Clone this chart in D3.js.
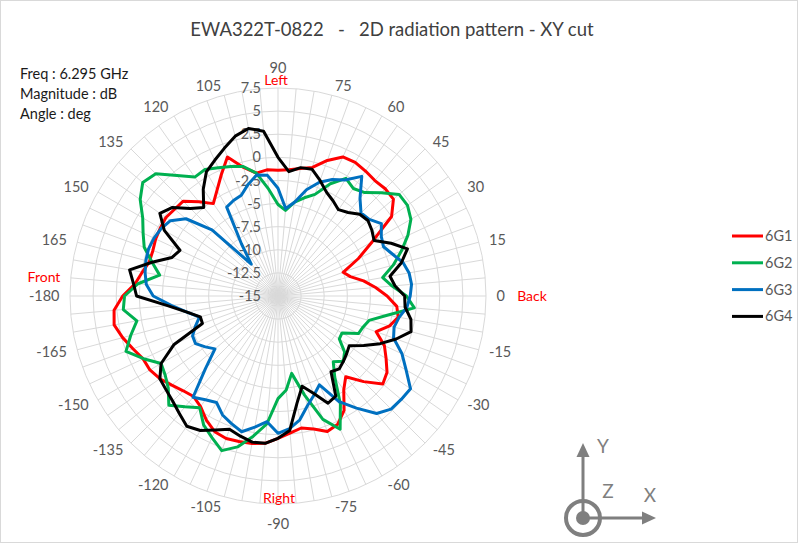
<!DOCTYPE html>
<html><head><meta charset="utf-8">
<script src="https://cdn.jsdelivr.net/npm/d3@7"></script>
<style>
body{margin:0;background:#fff;}
svg{display:block;font-family:Lato,"Open Sans",sans-serif;}
</style></head>
<body><svg id="c" width="798" height="543"></svg>
<script>
const angles = [0,5,10,15,20,25,30,35,40,45,50,55,60,65,70,75,80,85,90,95,100,105,110,115,120,125,130,135,140,145,150,155,160,165,170,175,-180,-175,-170,-165,-160,-155,-150,-145,-140,-135,-130,-125,-120,-115,-110,-105,-100,-95,-90,-85,-80,-75,-70,-65,-60,-55,-50,-45,-40,-35,-30,-25,-20,-15,-10,-5];
const s6G1 = [-3.2,-4.4,-5.6,-6.9,-7.5,-5.4,-3.2,0.0,1.3,1.4,1.3,1.5,1.7,1.6,0.6,-0.6,-1.0,-1.3,-1.4,-1.3,-1.5,-0.6,1.0,-0.5,-1.8,-2.8,-1.7,-0.5,-0.4,-0.2,-0.3,-0.4,-0.6,-0.6,-0.1,0.5,
  1.8,2.8,3.0,2.4,1.7,1.1,1.0,0.6,0.0,-0.5,-0.8,-0.4,0.5,1.2,1.4,1.3,1.2,1.0,0.4,-0.1,-0.5,-0.1,0.6,0.3,-0.7,-2.6,-3.6,-1.9,-0.2,-0.6,-1.5,-2.3,-3.7,-2.5,-1.8,-2.1];
const s6G2 = [-1.1,-2.6,-3.5,-2.1,-0.8,0.5,1.6,2.1,2.1,0.8,-0.4,-0.8,-0.3,-1.6,-3.3,-4.0,-4.7,-5.7,-5.1,-3.4,-1.5,-0.5,-0.1,0.3,0.8,0.7,2.0,3.7,4.1,3.2,1.9,1.1,0.4,-0.9,-2.0,0.2,
  1.6,1.8,0.5,1.5,2.5,1.05,-0.4,-0.1,0.5,1.7,0.65,-0.24,1.1,1.9,2.8,1.9,0.4,-1.1,-3.9,-4.8,-6.5,-3.9,-0.8,0.9,-1.5,-4.3,-5.7,-5.0,-5.6,-6.9,-7.0,-5.4,-5.2,-4.8,-3.0,-0.2];
const s6G3 = [-0.7,-0.5,-0.6,-1.0,-1.8,-2.4,-2.1,-1.35,-2.1,-2.3,-1.2,0.8,-0.5,-1.1,-1.9,-3.1,-4.7,-5.5,-3.35,-1.9,-1.7,-2.5,-3.4,-3.6,-3.9,-8.1,-10.5,-4.9,-2.0,-0.8,-0.4,-0.2,-0.1,-0.2,-0.4,-0.7,
  -1.5,-3.4,-5.0,-6.2,-5.5,-4.8,-4.7,-5.4,-6.1,-3.9,-0.7,-1.3,-1.7,-0.8,-0.3,0.2,-0.6,-1.35,-0.15,-0.6,-1.4,-2.7,-3.6,-4.4,-1.8,-0.2,1.6,2.3,2.4,2.5,1.0,-0.2,-1.7,-2.0,-1.7,-1.0];
const s6G4 = [-1.3,-2.3,-2.7,-1.2,-0.1,-1.5,-3.0,-2.6,-2.3,-2.5,-3.2,-3.6,-3.1,-2.6,-1.7,-0.8,-0.9,-1.5,0.0,2.9,3.4,2.9,2.0,1.2,0.5,-0.9,-2.5,-1.6,-0.1,0.6,-0.8,-3.3,-2.8,-0.9,1.3,0.7,
  0.3,-3.0,-5.0,-6.3,-6.3,-2.6,-0.4,0.6,0.8,1.1,1.6,2.2,1.8,1.0,0.35,0.7,1.05,1.0,0.4,-0.4,-3.2,-4.9,-3.8,-2.2,-2.5,-5.0,-4.7,-5.0,-5.3,-5.6,-4.3,-2.8,-1.4,-0.1,-0.4,-1.2];
const seriesNames = ["6G1","6G2","6G3","6G4"];
const seriesColors = ["#FF0000","#00B050","#0070C0","#000000"];
const radialTicks = [-15,-12.5,-10,-7.5,-5,-2.5,0,2.5,5,7.5];
const angleTicks = [0,15,30,45,60,75,90,105,120,135,150,165,-180,-165,-150,-135,-120,-105,-90,-75,-60,-45,-30,-15];
const infoLines = ["Freq : 6.295 GHz","Magnitude : dB","Angle : deg"];
const dirLabels = [{t:"Left",a:90},{t:"Right",a:-90},{t:"Front",a:180},{t:"Back",a:0}];
const title = "EWA322T-0822   -   2D radiation pattern - XY cut";

const svg = d3.select("#c");
const W=798,H=543, cx=278, cy=296, R=208;
svg.append("rect").attr("x",0.5).attr("y",0.5).attr("width",W-1).attr("height",H-1).attr("fill","#fff").attr("stroke","#d9d9d9");

const r = d3.scaleLinear().domain([-15,7.5]).range([0,R]);
const toRad = a => (90 - a) * Math.PI/180; // lineRadial angle (clockwise from top)
const g = svg.append("g").attr("transform",`translate(${cx},${cy})`);

// grid rings
g.selectAll("circle.ring").data(radialTicks.slice(1)).join("circle")
  .attr("r", d=>r(d)).attr("fill","none").attr("stroke","#d9d9d9").attr("stroke-width",1);
// spokes
g.selectAll("line.spoke").data(angles).join("line")
  .attr("x1",0).attr("y1",0)
  .attr("x2", a=>R*Math.cos(a*Math.PI/180)).attr("y2", a=>-R*Math.sin(a*Math.PI/180))
  .attr("stroke","#d9d9d9").attr("stroke-width",1);

// radial labels
g.selectAll("text.rt").data(radialTicks).join("text")
  .attr("x",-17).attr("y",d=>-r(d)).attr("dy","0.35em").attr("text-anchor","end")
  .attr("font-size",14.5).attr("fill","#595959").text(d=>String(d));

// angle labels: anchor point on a circle just outside the plot, box pushed outward
const al = g.selectAll("text.at").data(angleTicks).join("text")
  .attr("font-size",14.5).attr("fill","#595959").attr("text-anchor","middle").attr("dy","0.35em")
  .text(d=>String(d));
al.each(function(a){
  const w = this.getComputedTextLength();
  const rad = a*Math.PI/180, c = Math.cos(rad), s = Math.sin(rad);
  const rr = R + 10;
  let x = rr*c, y = -rr*s;
  if (Math.abs(c) > 0.01) x += Math.sign(c)*(w/2+0.5);
  else y += -Math.sign(s)*10;
  d3.select(this).attr("x", x).attr("y", y);
});

// series
const line = d3.lineRadial().angle(d=>toRad(d[0])).radius(d=>r(d[1])).curve(d3.curveLinearClosed);
[s6G1,s6G2,s6G3,s6G4].forEach((s,i)=>{
  g.append("path").datum(angles.map((a,k)=>[a,s[k]]))
   .attr("d",line).attr("fill","none").attr("stroke",seriesColors[i])
   .attr("stroke-width",3).attr("stroke-linejoin","round");
});

// title
svg.append("text").attr("x",392).attr("y",30).attr("dy","0.35em").attr("text-anchor","middle")
  .attr("font-size",18.5).attr("fill","#404040").style("white-space","pre").text(title);

// info
svg.selectAll("text.info").data(infoLines).join("text")
  .attr("x",20).attr("y",(d,i)=>74+i*20).attr("dy","0.35em").attr("font-size",14.5).attr("fill","#1a1a1a").text(d=>d);

// direction labels
const dirPos = {Left:[276,80.5],Right:[279,498],Front:[44,277],Back:[532,296]};
svg.selectAll("text.dir").data(dirLabels).join("text")
  .attr("x",d=>dirPos[d.t][0]).attr("y",d=>dirPos[d.t][1]).attr("dy","0.35em").attr("text-anchor","middle")
  .attr("font-size",14).attr("fill","#FF0000").text(d=>d.t);

// legend
const lg = svg.append("g");
seriesNames.forEach((n,i)=>{
  const y = 236 + i*26.8;
  lg.append("line").attr("x1",732).attr("x2",763).attr("y1",y).attr("y2",y).attr("stroke",seriesColors[i]).attr("stroke-width",3);
  lg.append("text").attr("x",765).attr("y",y).attr("dy","0.35em").attr("font-size",14.5).attr("fill","#595959").text(n);
});

// axis icon
const ic = svg.append("g").attr("fill","#7f7f7f").attr("stroke","#7f7f7f");
const ox=583, oy=518;
ic.append("line").attr("x1",ox).attr("y1",oy).attr("x2",ox).attr("y2",455).attr("stroke-width",3);
ic.append("path").attr("d",`M${ox-6.5},${457} L${ox},${443} L${ox+6.5},${457} Z`).attr("stroke","none");
ic.append("line").attr("x1",ox).attr("y1",oy).attr("x2",644).attr("y2",oy).attr("stroke-width",3);
ic.append("path").attr("d",`M${642},${oy-6.5} L${656},${oy} L${642},${oy+6.5} Z`).attr("stroke","none");
ic.append("circle").attr("cx",ox).attr("cy",oy).attr("r",17).attr("fill","none").attr("stroke-width",4);
ic.append("circle").attr("cx",ox).attr("cy",oy).attr("r",7).attr("stroke","none");
[["Y",603,446],["Z",608,491],["X",650,495]].forEach(([t,x,y])=>{
  ic.append("text").attr("x",x).attr("y",y).attr("dy","0.35em").attr("text-anchor","middle").attr("stroke","none")
    .attr("font-size",19).text(t);
});
</script></body></html>
